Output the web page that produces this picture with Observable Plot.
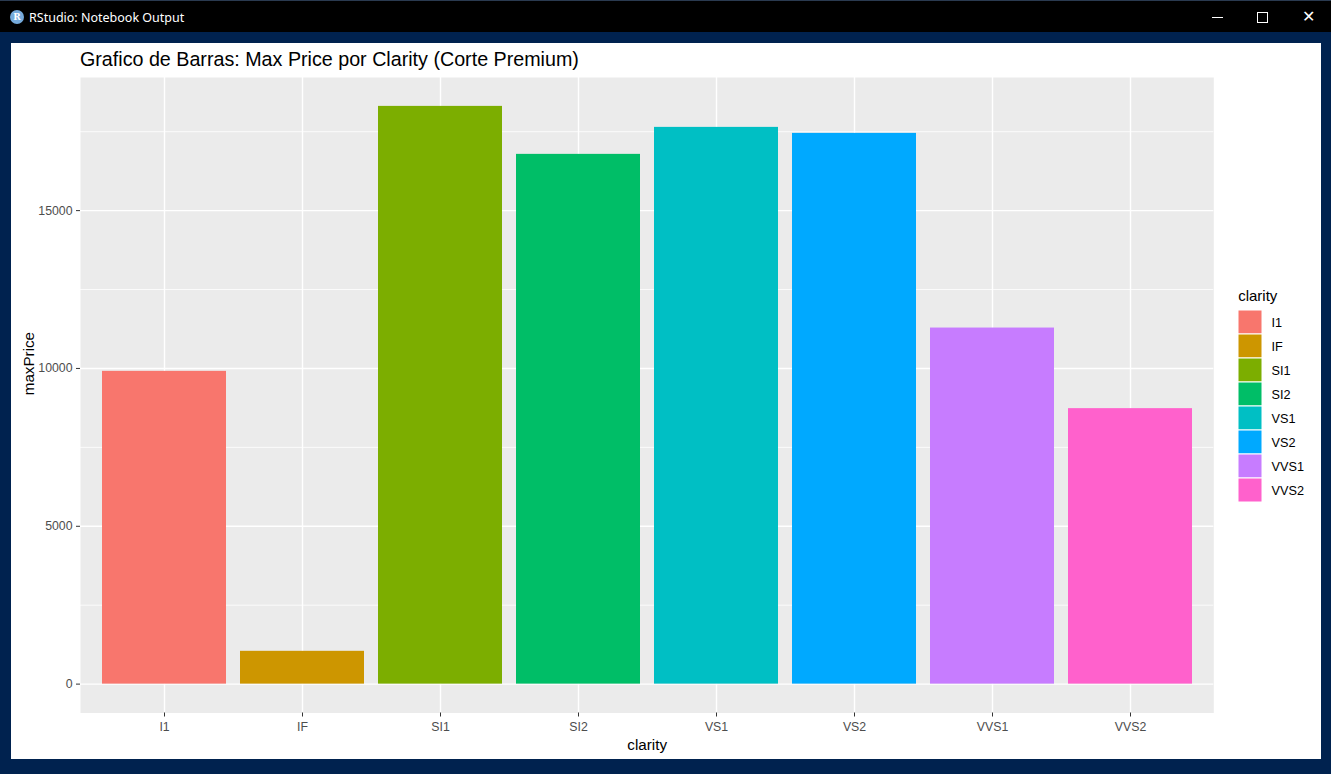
<!DOCTYPE html>
<html>
<head>
<meta charset="utf-8">
<script src="https://cdn.jsdelivr.net/npm/d3@7"></script>
<script src="https://cdn.jsdelivr.net/npm/@observablehq/plot@0.6"></script>
<style>
  body { margin: 0; width: 1331px; height: 774px; overflow: hidden; background: #00224f; position: relative; font-family: "Liberation Sans", Arial, sans-serif; }
  #titlebar { position: absolute; left: 0; top: 0; width: 1331px; height: 32px; background: #000; border-top: 1px solid #2a3a50; box-sizing: border-box; }
  #titlebar .txt { position: absolute; left: 29px; top: 8px; color: #fff; font: 12.5px "Noto Sans", "Open Sans", sans-serif; }
  #titlebar .icon { position: absolute; left: 10px; top: 9px; width: 14px; height: 14px; border-radius: 50%; background: #75aadb; color: #fff; font: bold 9px "DejaVu Serif", serif; text-align: center; line-height: 14px; }
  .min { position: absolute; left: 1212px; top: 16px; width: 11px; height: 1px; background: #fff; }
  .max { position: absolute; left: 1257px; top: 11px; width: 9px; height: 9px; border: 1px solid #fff; }
  .cls { position: absolute; left: 1302px; top: 6px; color: #fff; font: 16px "DejaVu Sans", sans-serif; }
  #page { position: absolute; left: 11px; top: 43px; width: 1310px; height: 716px; background: #fff; }
  #title { position: absolute; left: 80px; top: 50.3px; font-size: 19.7px; line-height: 1; color: #000; white-space: nowrap; }
  #chart { position: absolute; left: 11px; top: 43px; }
  #legend { position: absolute; left: 1230px; top: 280px; }
</style>
</head>
<body>
<div id="titlebar">
  <div class="icon">R</div>
  <div class="txt">RStudio: Notebook Output</div>
  <div class="min"></div>
  <div class="max"></div>
  <div class="cls">✕</div>
</div>
<div id="page"></div>
<div id="title">Grafico de Barras: Max Price por Clarity (Corte Premium)</div>
<div id="chart"></div>
<div id="legend"></div>
<script>
// datos
const clarity = ["I1", "IF", "SI1", "SI2", "VS1", "VS2", "VVS1", "VVS2"];
const maxPrice = [9908, 1039, 18302, 16782, 17637, 17447, 11280, 8727];
const colores = ["#F8766D", "#CD9600", "#7CAE00", "#00BE67", "#00BFC4", "#00A9FF", "#C77CFF", "#FF61CC"];
const yTicks = [0, 5000, 10000, 15000];
const yMinor = [2500, 7500, 12500, 17500];

const data = clarity.map((c, i) => ({ clarity: c, maxPrice: maxPrice[i] }));

// expansion de 5% como ggplot
const ymax = d3.max(maxPrice);
const pad = ymax * 0.05;

let chart = Plot.plot({
  width: 1310,
  height: 716,
  marginLeft: 69,
  marginRight: 107.7,
  marginTop: 34,
  marginBottom: 46.5,
  style: {
    "font-family": "'Liberation Sans', Arial, sans-serif",
    "background-color": "transparent",
    "font-size": "12.3px"
  },
  x: { domain: clarity, paddingInner: 0.1, paddingOuter: 0.15 },
  y: { domain: [-pad, ymax + pad] },
  color: { domain: clarity, range: colores },
  marks: [
    Plot.frame({ fill: "#EBEBEB", stroke: "none" }),
    Plot.gridY(yMinor, { stroke: "white", strokeOpacity: 1, strokeWidth: 0.8 }),
    Plot.gridY(yTicks, { stroke: "white", strokeOpacity: 1, strokeWidth: 1.4 }),
    Plot.gridX({ stroke: "white", strokeOpacity: 1, strokeWidth: 1.4 }),
    Plot.barY(data, { x: "clarity", y: "maxPrice", fill: "clarity" }),
    Plot.axisY(yTicks, { tickSize: 4, tickPadding: 4, label: null, tickFormat: d3.format("d"), stroke: "#333333", fill: "#4D4D4D", fontSize: 12.3 }),
    Plot.axisX({ tickSize: 4, tickPadding: 5, label: null, stroke: "#333333", fill: "#4D4D4D", fontSize: 12.3 }),
    Plot.text(["maxPrice"], { frameAnchor: "left", dx: -51.5, rotate: -90, fontSize: 15.2, fill: "#000" }),
    Plot.text(["clarity"], { frameAnchor: "bottom", dy: 37, lineAnchor: "bottom", fontSize: 15.2, fill: "#000" })
  ]
});
d3.select("#chart").append(() => chart);

// leyenda
let legend = Plot.plot({
  width: 100,
  height: 228,
  marginLeft: 7.7,
  marginRight: 67.7,
  marginTop: 28.3,
  marginBottom: 4.5,
  style: {
    "font-family": "'Liberation Sans', Arial, sans-serif",
    "background-color": "transparent"
  },
  x: { domain: ["k"], padding: 0, axis: null },
  y: { domain: clarity, padding: 0, axis: null },
  color: { domain: clarity, range: colores },
  marks: [
    Plot.cell(clarity, { x: () => "k", y: (d) => d, fill: "#F2F2F2" }),
    Plot.cell(clarity, { x: () => "k", y: (d) => d, fill: (d) => d, stroke: "white", strokeWidth: 1 }),
    Plot.text(clarity, { x: () => "k", y: (d) => d, text: (d) => d, textAnchor: "start", dx: 21, fontSize: 12.7, fill: "#000" }),
    Plot.text(["clarity"], { frameAnchor: "top-left", textAnchor: "start", lineAnchor: "bottom", dy: -8.3, fontSize: 15, fill: "#000" })
  ]
});
d3.select("#legend").append(() => legend);
</script>
</body>
</html>
